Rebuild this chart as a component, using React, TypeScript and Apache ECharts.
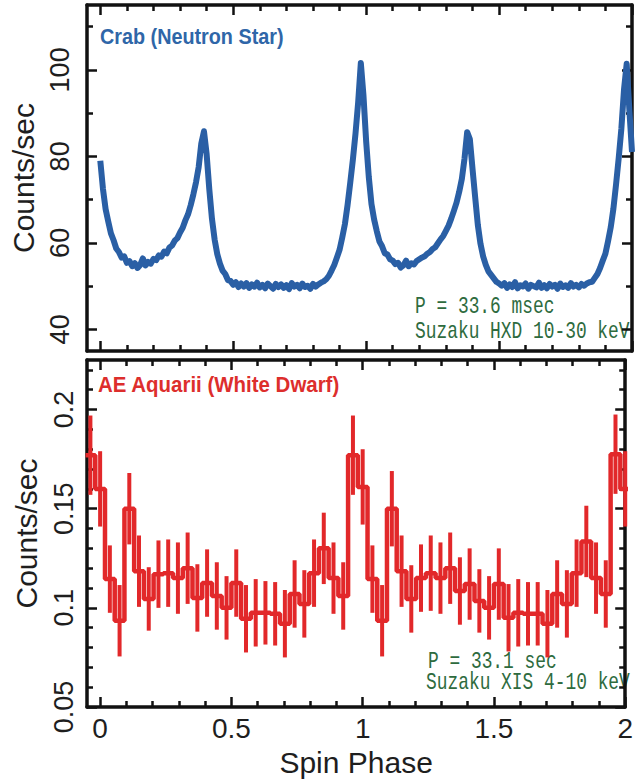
import React, { useEffect, useRef } from "react";
import * as echarts from "echarts";

// ---------- DATA ----------
// Crab pulse profile (Suzaku HXD 10-30 keV), sampled every 0.01 in phase from 0
const crabStart = 0;
const crabStep = 0.01;
const crabCounts = [
  79.0, 72.5, 67.8, 64.9, 62.2, 60.6, 58.7, 57.9, 56.6, 56.9,
  55.4, 55.8, 54.6, 55.3, 54.2, 54.9, 56.4, 54.8, 55.6, 55.2,
  56.3, 56.0, 57.1, 56.8, 58.0, 57.6, 58.9, 59.4, 60.5, 61.1,
  62.4, 63.5, 65.2, 66.6, 68.7, 71.2, 74.0, 77.5, 83.0, 85.8,
  80.5, 72.4, 65.6, 60.8, 57.4, 55.2, 53.6, 52.8, 51.4, 51.2,
  50.3, 50.9, 49.8, 50.6, 49.9, 50.7, 49.6, 50.4, 49.9, 50.8,
  49.7, 50.3, 49.5, 50.6, 50.0, 49.4, 50.5, 49.8, 50.4, 49.6,
  50.2, 49.3, 50.7, 49.9, 50.3, 49.5, 50.6, 49.8, 50.1, 49.4,
  50.5, 49.9, 50.4, 50.8, 51.1, 51.6, 52.4, 53.6, 54.9, 56.6,
  58.4, 61.2, 64.3, 68.7, 73.8, 79.2, 85.3, 92.5, 101.6, 94.0,
  83.5, 75.2, 69.0, 65.4, 62.7, 60.3, 59.2, 57.6, 57.3, 56.2,
  55.9, 55.1, 55.4, 54.3, 54.8, 55.9, 54.6, 55.3, 55.0, 55.8,
  56.2, 56.6, 56.9, 57.5, 57.9, 58.6, 59.0, 59.9, 60.8, 61.6,
  62.8, 64.0, 65.6, 67.4, 69.3, 71.8, 74.8, 79.5, 85.6, 84.0,
  77.2, 70.6, 64.2, 59.8, 56.9, 54.9, 53.4, 52.6, 51.8, 51.0,
  50.6, 50.1, 50.7, 49.6, 50.4, 49.8, 50.9, 49.5, 50.2, 49.9,
  50.6, 49.4, 50.3, 50.0, 49.7, 50.8, 49.6, 50.2, 49.5, 50.5,
  49.9, 50.3, 49.4, 50.6, 49.8, 50.2, 49.6, 50.7, 49.9, 50.3,
  49.7, 50.5, 50.1, 50.6, 50.9, 51.0, 51.9, 52.8, 54.2, 55.9,
  57.5, 60.4, 63.6, 67.9, 73.5, 79.6, 86.4, 95.5, 101.4, 90.8,
  81.0,
];

// AE Aquarii folded light curve (Suzaku XIS 4-10 keV), 27 bins per cycle
const aeBinsPerCycle = 27;
const aeFirstBin = -1;
const aeRate = [
  0.177, 0.160, 0.1145, 0.0935, 0.150, 0.1185, 0.1045, 0.117, 0.1175, 0.115,
  0.120, 0.105, 0.1125, 0.106, 0.100, 0.1125, 0.0945, 0.0975, 0.0975, 0.097,
  0.092, 0.107, 0.102, 0.1175, 0.130, 0.115, 0.106, 0.177, 0.161, 0.1145,
  0.0935, 0.150, 0.1185, 0.1045, 0.115, 0.1175, 0.115, 0.120, 0.1085, 0.112,
  0.1035, 0.100, 0.112, 0.095, 0.0975, 0.097, 0.097, 0.092, 0.107, 0.102,
  0.1175, 0.1335, 0.115, 0.107, 0.1775, 0.160,
];
const aeError = [
  0.020, 0.019, 0.017, 0.018, 0.018, 0.018, 0.016, 0.017, 0.017, 0.018,
  0.018, 0.017, 0.017, 0.017, 0.016, 0.017, 0.017, 0.017, 0.016, 0.016,
  0.017, 0.017, 0.017, 0.017, 0.018, 0.018, 0.017, 0.020, 0.019, 0.017,
  0.018, 0.019, 0.018, 0.017, 0.017, 0.019, 0.018, 0.018, 0.017, 0.018,
  0.016, 0.016, 0.018, 0.017, 0.017, 0.016, 0.016, 0.017, 0.017, 0.017,
  0.017, 0.018, 0.018, 0.017, 0.020, 0.019,
];

// Axis ticks
const phaseTicks = [0, 0.5, 1, 1.5, 2];
const phaseMinorTicks = [0.1, 0.2, 0.3, 0.4, 0.6, 0.7, 0.8, 0.9, 1.1, 1.2, 1.3, 1.4, 1.6, 1.7, 1.8, 1.9];
const crabTicks = [40, 60, 80, 100];
const crabMinorTicks = [50, 70, 90, 110];
const aeTicks = [0.05, 0.1, 0.15, 0.2];
const aeMinorTicks = [0.06, 0.07, 0.08, 0.09, 0.11, 0.12, 0.13, 0.14, 0.16, 0.17, 0.18, 0.19, 0.21, 0.22];

// ---------- STYLE ----------
const FRAME = "#111111";
const BLUE = "#2a5fa5";
const RED = "#e2282a";
const GREEN = "#2e6b3e";
const SANS = "'Liberation Sans', Arial, sans-serif";
const MONO = "'Liberation Mono', 'DejaVu Sans Mono', monospace";

const PHASE_MIN = -0.05;
const PHASE_MAX = 2;

function xAxesFor(grid: number, withLabels: boolean) {
  const base: any = {
    type: "value",
    gridIndex: grid,
    min: PHASE_MIN,
    max: PHASE_MAX,
    splitLine: { show: false },
    axisLabel: { show: false },
  };
  const line = { show: true, onZero: false, lineStyle: { color: FRAME, width: 3.5 } };
  const noLine = { show: false, onZero: false };
  const major = { show: true, inside: true, length: 10, customValues: phaseTicks, lineStyle: { color: FRAME, width: 2.5 } };
  const minor = { show: true, inside: true, length: 6, customValues: phaseMinorTicks, lineStyle: { color: FRAME, width: 2.5 } };
  const bottomMain: any = { ...base, position: "bottom", axisLine: line, axisTick: major };
  if (withLabels) {
    bottomMain.axisLabel = {
      show: true,
      customValues: phaseTicks,
      margin: 7,
      fontSize: 28,
      fontFamily: SANS,
      color: "#1e1e1e",
    };
    bottomMain.name = "Spin Phase";
    bottomMain.nameLocation = "middle";
    bottomMain.nameGap = 40;
    bottomMain.nameTextStyle = { fontSize: 30, fontFamily: SANS, color: "#1e1e1e" };
  }
  return [
    bottomMain,
    { ...base, position: "bottom", axisLine: noLine, axisTick: minor },
    { ...base, position: "top", axisLine: line, axisTick: major },
    { ...base, position: "top", axisLine: noLine, axisTick: minor },
  ];
}

function yAxesFor(grid: number, min: number, max: number, ticks: number[], minorTicks: number[], margin: number) {
  const base: any = {
    type: "value",
    gridIndex: grid,
    min,
    max,
    splitLine: { show: false },
    axisLabel: { show: false },
  };
  const line = { show: true, onZero: false, lineStyle: { color: FRAME, width: 3.5 } };
  const noLine = { show: false, onZero: false };
  const major = { show: true, inside: true, length: 10, customValues: ticks, lineStyle: { color: FRAME, width: 2.5 } };
  const minor = { show: true, inside: true, length: 6, customValues: minorTicks, lineStyle: { color: FRAME, width: 2.5 } };
  return [
    {
      ...base,
      position: "left",
      axisLine: line,
      axisTick: major,
      axisLabel: {
        show: true,
        customValues: ticks,
        rotate: 90,
        margin,
        fontSize: 27,
        fontFamily: SANS,
        color: "#1e1e1e",
      },
      name: "Counts/sec",
      nameLocation: "middle",
      nameGap: 46,
      nameTextStyle: { fontSize: 30, fontFamily: SANS, color: "#1e1e1e" },
    },
    { ...base, position: "left", axisLine: noLine, axisTick: minor },
    { ...base, position: "right", axisLine: line, axisTick: major },
    { ...base, position: "right", axisLine: noLine, axisTick: minor },
  ];
}

export default function App() {
  const ref = useRef<HTMLDivElement>(null);

  useEffect(() => {
    if (!ref.current) return;
    const chart = echarts.init(ref.current, undefined, { renderer: "svg" });

    const crabData = crabCounts.map((v, i) => [crabStart + i * crabStep, v]);
    const w = 1 / aeBinsPerCycle;
    const aeCenters = aeRate.map((_, i) => (aeFirstBin + i) * w);
    const stepData = aeRate.map((v, i) => [aeCenters[i] - w / 2, v]);
    stepData.push([aeCenters[aeCenters.length - 1] + w / 2, aeRate[aeRate.length - 1]]);
    const errData = aeRate.map((v, i) => [aeCenters[i], v, aeError[i]]);

    const option: any = {
      animation: false,
      backgroundColor: "#ffffff",
      grid: [
        { left: 87, top: 5, width: 545, height: 346 },
        { left: 87, top: 360, width: 545, height: 347 },
      ],
      xAxis: [...xAxesFor(0, false), ...xAxesFor(1, true)],
      yAxis: [
        ...yAxesFor(0, 35, 115, crabTicks, crabMinorTicks, 14),
        ...yAxesFor(1, 0.05, 0.225, aeTicks, aeMinorTicks, 10),
      ],
      series: [
        {
          type: "line",
          xAxisIndex: 0,
          yAxisIndex: 0,
          data: crabData,
          showSymbol: false,
          smooth: false,
          clip: true,
          lineStyle: { color: BLUE, width: 6, join: "round" },
          itemStyle: { color: BLUE },
        },
        {
          type: "line",
          xAxisIndex: 4,
          yAxisIndex: 4,
          data: stepData,
          step: "end",
          showSymbol: false,
          clip: true,
          lineStyle: { color: RED, width: 4.5 },
          itemStyle: { color: RED },
        },
        {
          type: "custom",
          xAxisIndex: 4,
          yAxisIndex: 4,
          data: errData,
          encode: { x: 0, y: 1 },
          renderItem: (params: any, api: any) => {
            const x = api.value(0);
            const v = api.value(1);
            const e = api.value(2);
            const p1 = api.coord([x, v + e]);
            const p2 = api.coord([x, v - e]);
            const cs = params.coordSys;
            const cx = Math.min(Math.max(p1[0], cs.x), cs.x + cs.width);
            return {
              type: "line",
              shape: { x1: cx, y1: p1[1], x2: cx, y2: p2[1] },
              style: { stroke: RED, lineWidth: 4 },
            };
          },
        },
      ],
      graphic: [
        {
          type: "text",
          x: 100,
          y: 36,
          scaleX: 0.9,
          style: {
            text: "Crab (Neutron Star)",
            fill: "#2f66a8",
            fontSize: 22,
            fontWeight: "bold",
            fontFamily: SANS,
            verticalAlign: "middle",
            align: "left",
          },
        },
        {
          type: "text",
          x: 98,
          y: 385,
          scaleX: 0.93,
          style: {
            text: "AE Aquarii (White Dwarf)",
            fill: "#dd2e2c",
            fontSize: 22,
            fontWeight: "bold",
            fontFamily: SANS,
            verticalAlign: "middle",
            align: "left",
          },
        },
        {
          type: "text",
          x: 415,
          y: 306,
          scaleX: 0.745,
          style: { text: "P = 33.6 msec", fill: GREEN, fontSize: 24, fontFamily: MONO, verticalAlign: "middle", align: "left" },
        },
        {
          type: "text",
          x: 415,
          y: 331,
          scaleX: 0.745,
          style: { text: "Suzaku HXD 10-30 keV", fill: GREEN, fontSize: 24, fontFamily: MONO, verticalAlign: "middle", align: "left" },
        },
        {
          type: "text",
          x: 428,
          y: 661,
          scaleX: 0.745,
          style: { text: "P = 33.1 sec", fill: GREEN, fontSize: 24, fontFamily: MONO, verticalAlign: "middle", align: "left" },
        },
        {
          type: "text",
          x: 426,
          y: 682,
          scaleX: 0.745,
          style: { text: "Suzaku XIS 4-10 keV", fill: GREEN, fontSize: 24, fontFamily: MONO, verticalAlign: "middle", align: "left" },
        },
      ],
    };

    chart.setOption(option);
    return () => chart.dispose();
  }, []);

  return (
    <div
      ref={ref}
      style={{ position: "absolute", left: 0, top: 0, width: 636, height: 780, background: "#ffffff" }}
    />
  );
}
